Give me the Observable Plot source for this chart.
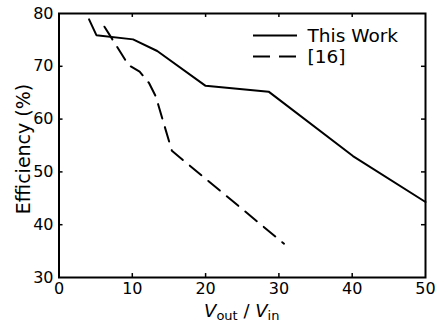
<!DOCTYPE html>
<html>
<head>
<meta charset="utf-8">
<script src="https://cdn.jsdelivr.net/npm/d3@7"></script>
<script src="https://cdn.jsdelivr.net/npm/@observablehq/plot@0.6"></script>
<style>
  html, body { margin: 0; padding: 0; background: #fff; }
  #chart svg { display: block; }
</style>
</head>
<body>
<div id="chart"></div>
<script>
// Data
const thisWorkX = [4.1, 5.1, 10.1, 13.4, 20.0, 28.6, 40.1, 50.0];
const thisWorkY = [78.9, 75.9, 75.1, 72.9, 66.3, 65.2, 53.0, 44.3];
const ref16X = [6.2, 9.5, 11.0, 12.3, 13.2, 15.4, 30.7];
const ref16Y = [77.5, 70.2, 69.0, 66.8, 64.3, 54.0, 36.4];
const xTicks = [0, 10, 20, 30, 40, 50];
const yTicks = [30, 40, 50, 60, 70, 80];
const xInner = [10, 20, 30, 40];
const yInner = [40, 50, 60, 70];
const seriesNames = ["This Work", "[16]"];

const thisWork = thisWorkX.map((x, i) => ({x, y: thisWorkY[i]}));
const ref16 = ref16X.map((x, i) => ({x, y: ref16Y[i]}));

const font = "DejaVu Sans, Verdana, sans-serif";

const plot = Plot.plot({
  width: 436,
  height: 322,
  marginLeft: 58.5,
  marginRight: 11,
  marginTop: 13,
  marginBottom: 45,
  style: {fontFamily: font, fontSize: "16px", color: "#000", background: "#fff"},
  x: {domain: [0, 50]},
  y: {domain: [30, 80]},
  marks: [
    Plot.axisX({ticks: xTicks, tickSize: 0, tickPadding: 5, label: null, fontSize: 16}),
    Plot.axisY({ticks: yTicks, tickSize: 0, tickPadding: 5.5, label: null, fontSize: 16}),
    Plot.ruleX(xInner, {x: d => d, y1: 30, y2: 30.75, stroke: "#000", strokeWidth: 1.5}),
    Plot.ruleX(xInner, {x: d => d, y1: 80, y2: 79.25, stroke: "#000", strokeWidth: 1.5}),
    Plot.ruleY(yInner, {y: d => d, x1: 0, x2: 0.55, stroke: "#000", strokeWidth: 1.5}),
    Plot.ruleY(yInner, {y: d => d, x1: 50, x2: 49.45, stroke: "#000", strokeWidth: 1.5}),
    Plot.line(thisWork, {x: "x", y: "y", stroke: "#000", strokeWidth: 2, strokeLinejoin: "miter"}),
    Plot.line(ref16, {x: "x", y: "y", stroke: "#000", strokeWidth: 2, strokeDasharray: "15,9", strokeLinejoin: "miter"}),
    Plot.frame({stroke: "#000", strokeWidth: 2})
  ]
});

document.getElementById("chart").appendChild(plot);

const svg = d3.select(plot);
const xs = plot.scale("x"), ys = plot.scale("y");
const cx = (xs.apply(0) + xs.apply(50)) / 2;
const cy = (ys.apply(30) + ys.apply(80)) / 2;

// Y axis label
svg.append("text")
  .attr("transform", `translate(30,${cy + 4}) rotate(-90)`)
  .attr("text-anchor", "middle")
  .attr("font-family", font)
  .attr("font-size", 19)
  .attr("fill", "#000")
  .text("Efficiency (%)");

// X axis label: V_out / V_in
const xl = svg.append("text")
  .attr("x", cx)
  .attr("y", 316.5)
  .attr("text-anchor", "middle")
  .attr("font-family", font)
  .attr("font-size", 18)
  .attr("fill", "#000");
xl.append("tspan").attr("font-style", "italic").text("V");
xl.append("tspan").attr("font-size", 13).attr("dy", 3.5).text("out");
xl.append("tspan").attr("dy", -3.5).text(" / ");
xl.append("tspan").attr("font-style", "italic").text("V");
xl.append("tspan").attr("font-size", 13).attr("dy", 3.5).text("in");

// Legend
const lg = svg.append("g");
const rows = [
  {name: seriesNames[0], ly: 35.5, ty: 42, dash: null},
  {name: seriesNames[1], ly: 56.5, ty: 62.5, dash: "17,9"}
];
rows.forEach(r => {
  lg.append("line")
    .attr("x1", 253).attr("x2", 297)
    .attr("y1", r.ly).attr("y2", r.ly)
    .attr("stroke", "#000").attr("stroke-width", 2)
    .attr("stroke-dasharray", r.dash);
  lg.append("text")
    .attr("x", 307.5).attr("y", r.ty)
    .attr("text-anchor", "start")
    .attr("font-family", font).attr("font-size", 18.5)
    .attr("fill", "#000")
    .text(r.name);
});
</script>
</body>
</html>
